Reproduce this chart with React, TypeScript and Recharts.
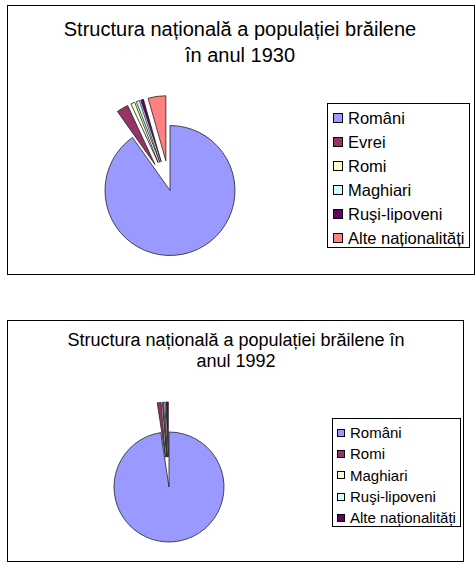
import React from 'react';
import { PieChart, Pie, Cell, Legend, Sector } from 'recharts';

// ---- data ----
const names1930 = ['Români', 'Evrei', 'Romi', 'Maghiari', 'Ruşi-lipoveni', 'Alte naționalități'];
const values1930 = [90.2, 2.9, 1.0, 0.8, 0.7, 4.4];
const colors1930 = ['#9999FF', '#993366', '#FFFFCC', '#CCFFFF', '#660066', '#FF8080'];

const names1992 = ['Români', 'Romi', 'Maghiari', 'Ruşi-lipoveni', 'Alte naționalități'];
const values1992 = [97.6, 1.1, 0.2, 0.4, 0.7];
const colors1992 = ['#9999FF', '#993366', '#FFFFCC', '#CCFFFF', '#660066'];

const title1930 = ['Structura națională a populației brăilene', 'în anul 1930'];
const title1992 = ['Structura națională a populației brăilene în', 'anul 1992'];

const build = (names: string[], values: number[], colors: string[]) =>
  names.map((name, i) => ({ name, value: values[i], fill: colors[i], idx: i }));

const data1930 = build(names1930, values1930, colors1930);
const data1992 = build(names1992, values1992, colors1992);

const FONT = '"Liberation Sans", Arial, sans-serif';
const RAD = Math.PI / 180;

const explodedShape = (dist: number) => (props: any) => {
  const idx = props?.payload?.idx ?? props?.idx ?? 0;
  const d = idx > 0 ? dist : 0;
  const dx = d * Math.cos(-props.midAngle * RAD);
  const dy = d * Math.sin(-props.midAngle * RAD);
  return <Sector {...props} cx={props.cx + dx} cy={props.cy + dy} />;
};

type LegendOpts = {
  width: number;
  height: number;
  padTop: number;
  row: number;
  swatch: number;
  swLeft: number;
  gap: number;
  fontSize: number;
};

const makeLegend = (o: LegendOpts) => (props: any) => {
  const payload = [...(props.payload || [])].sort(
    (a: any, b: any) => (a.payload?.idx ?? 0) - (b.payload?.idx ?? 0)
  );
  return (
    <div
      style={{
        width: o.width,
        height: o.height,
        border: '1px solid #000',
        boxSizing: 'border-box',
        background: '#fff',
        paddingTop: o.padTop,
        fontFamily: FONT,
      }}
    >
      {payload.map((e: any, i: number) => (
        <div
          key={i}
          style={{
            height: o.row,
            display: 'flex',
            alignItems: 'center',
            paddingLeft: o.swLeft,
            fontSize: o.fontSize,
            color: '#000',
            whiteSpace: 'nowrap',
          }}
        >
          <span
            style={{
              display: 'inline-block',
              width: o.swatch,
              height: o.swatch,
              boxSizing: 'border-box',
              border: '1px solid #000',
              background: e.payload?.fill ?? e.color,
              marginRight: o.gap,
              flex: 'none',
            }}
          />
          <span>{e.value}</span>
        </div>
      ))}
    </div>
  );
};

type TitleLine = { text: string; x: number; y: number };

const Frame = ({
  left,
  top,
  width,
  height,
  children,
  titleLines,
  titleSize,
}: {
  left: number;
  top: number;
  width: number;
  height: number;
  children: React.ReactNode;
  titleLines: TitleLine[];
  titleSize: number;
}) => (
  <div
    style={{
      position: 'absolute',
      left,
      top,
      width,
      height,
      border: '1px solid #000',
      boxSizing: 'border-box',
      background: '#fff',
    }}
  >
    <div style={{ position: 'absolute', left: 0, top: 0 }}>{children}</div>
    <svg
      width={width - 2}
      height={height - 2}
      style={{ position: 'absolute', left: 0, top: 0, pointerEvents: 'none' }}
    >
      {titleLines.map((t, i) => (
        <text key={i} x={t.x} y={t.y} textAnchor="middle" fontFamily={FONT} fontSize={titleSize} fill="#000">
          {t.text}
        </text>
      ))}
    </svg>
  </div>
);

export default function App() {
  return (
    <div style={{ position: 'absolute', left: 0, top: 0, width: 476, height: 571, background: '#fff', fontFamily: FONT }}>
      <Frame
        left={7}
        top={5}
        width={468}
        height={270}
        titleSize={20}
        titleLines={[
          { text: title1930[0], x: 232, y: 30 },
          { text: title1930[1], x: 232, y: 56 },
        ]}
      >
        <PieChart width={466} height={268} margin={{ top: 0, right: 0, bottom: 0, left: 0 }}>
          <Pie
            data={data1930}
            dataKey="value"
            nameKey="name"
            cx={162}
            cy={184.5}
            innerRadius={0}
            outerRadius={65}
            startAngle={90}
            endAngle={-270}
            stroke="#222"
            strokeWidth={0.8}
            isAnimationActive={false}
            shape={explodedShape(30)}
            activeShape={explodedShape(30)}
            inactiveShape={explodedShape(30)}
          >
            {data1930.map((d, i) => (
              <Cell key={i} fill={d.fill} />
            ))}
          </Pie>
          <Legend
            layout="vertical"
            align="right"
            verticalAlign="middle"
            itemSorter={null as any}
            wrapperStyle={{ left: 319, top: 97, width: 143, height: 145, right: 'auto', bottom: 'auto' }}
            content={makeLegend({ width: 143, height: 145, padTop: 2, row: 24, swatch: 10, swLeft: 5, gap: 5, fontSize: 16.5 })}
          />
        </PieChart>
      </Frame>

      <Frame
        left={7}
        top={320}
        width={457}
        height={242}
        titleSize={18}
        titleLines={[
          { text: title1992[0], x: 228, y: 25 },
          { text: title1992[1], x: 228, y: 45.5 },
        ]}
      >
        <PieChart width={455} height={240} margin={{ top: 0, right: 0, bottom: 0, left: 0 }}>
          <Pie
            data={data1992}
            dataKey="value"
            nameKey="name"
            cx={161}
            cy={166}
            innerRadius={0}
            outerRadius={55}
            startAngle={90}
            endAngle={-270}
            stroke="#222"
            strokeWidth={0.8}
            isAnimationActive={false}
            shape={explodedShape(30)}
            activeShape={explodedShape(30)}
            inactiveShape={explodedShape(30)}
          >
            {data1992.map((d, i) => (
              <Cell key={i} fill={d.fill} />
            ))}
          </Pie>
          <Legend
            layout="vertical"
            align="right"
            verticalAlign="middle"
            itemSorter={null as any}
            wrapperStyle={{ left: 324, top: 97, width: 129, height: 109, right: 'auto', bottom: 'auto' }}
            content={makeLegend({ width: 129, height: 109, padTop: 3, row: 21.3, swatch: 8, swLeft: 4, gap: 5, fontSize: 15 })}
          />
        </PieChart>
      </Frame>
    </div>
  );
}
